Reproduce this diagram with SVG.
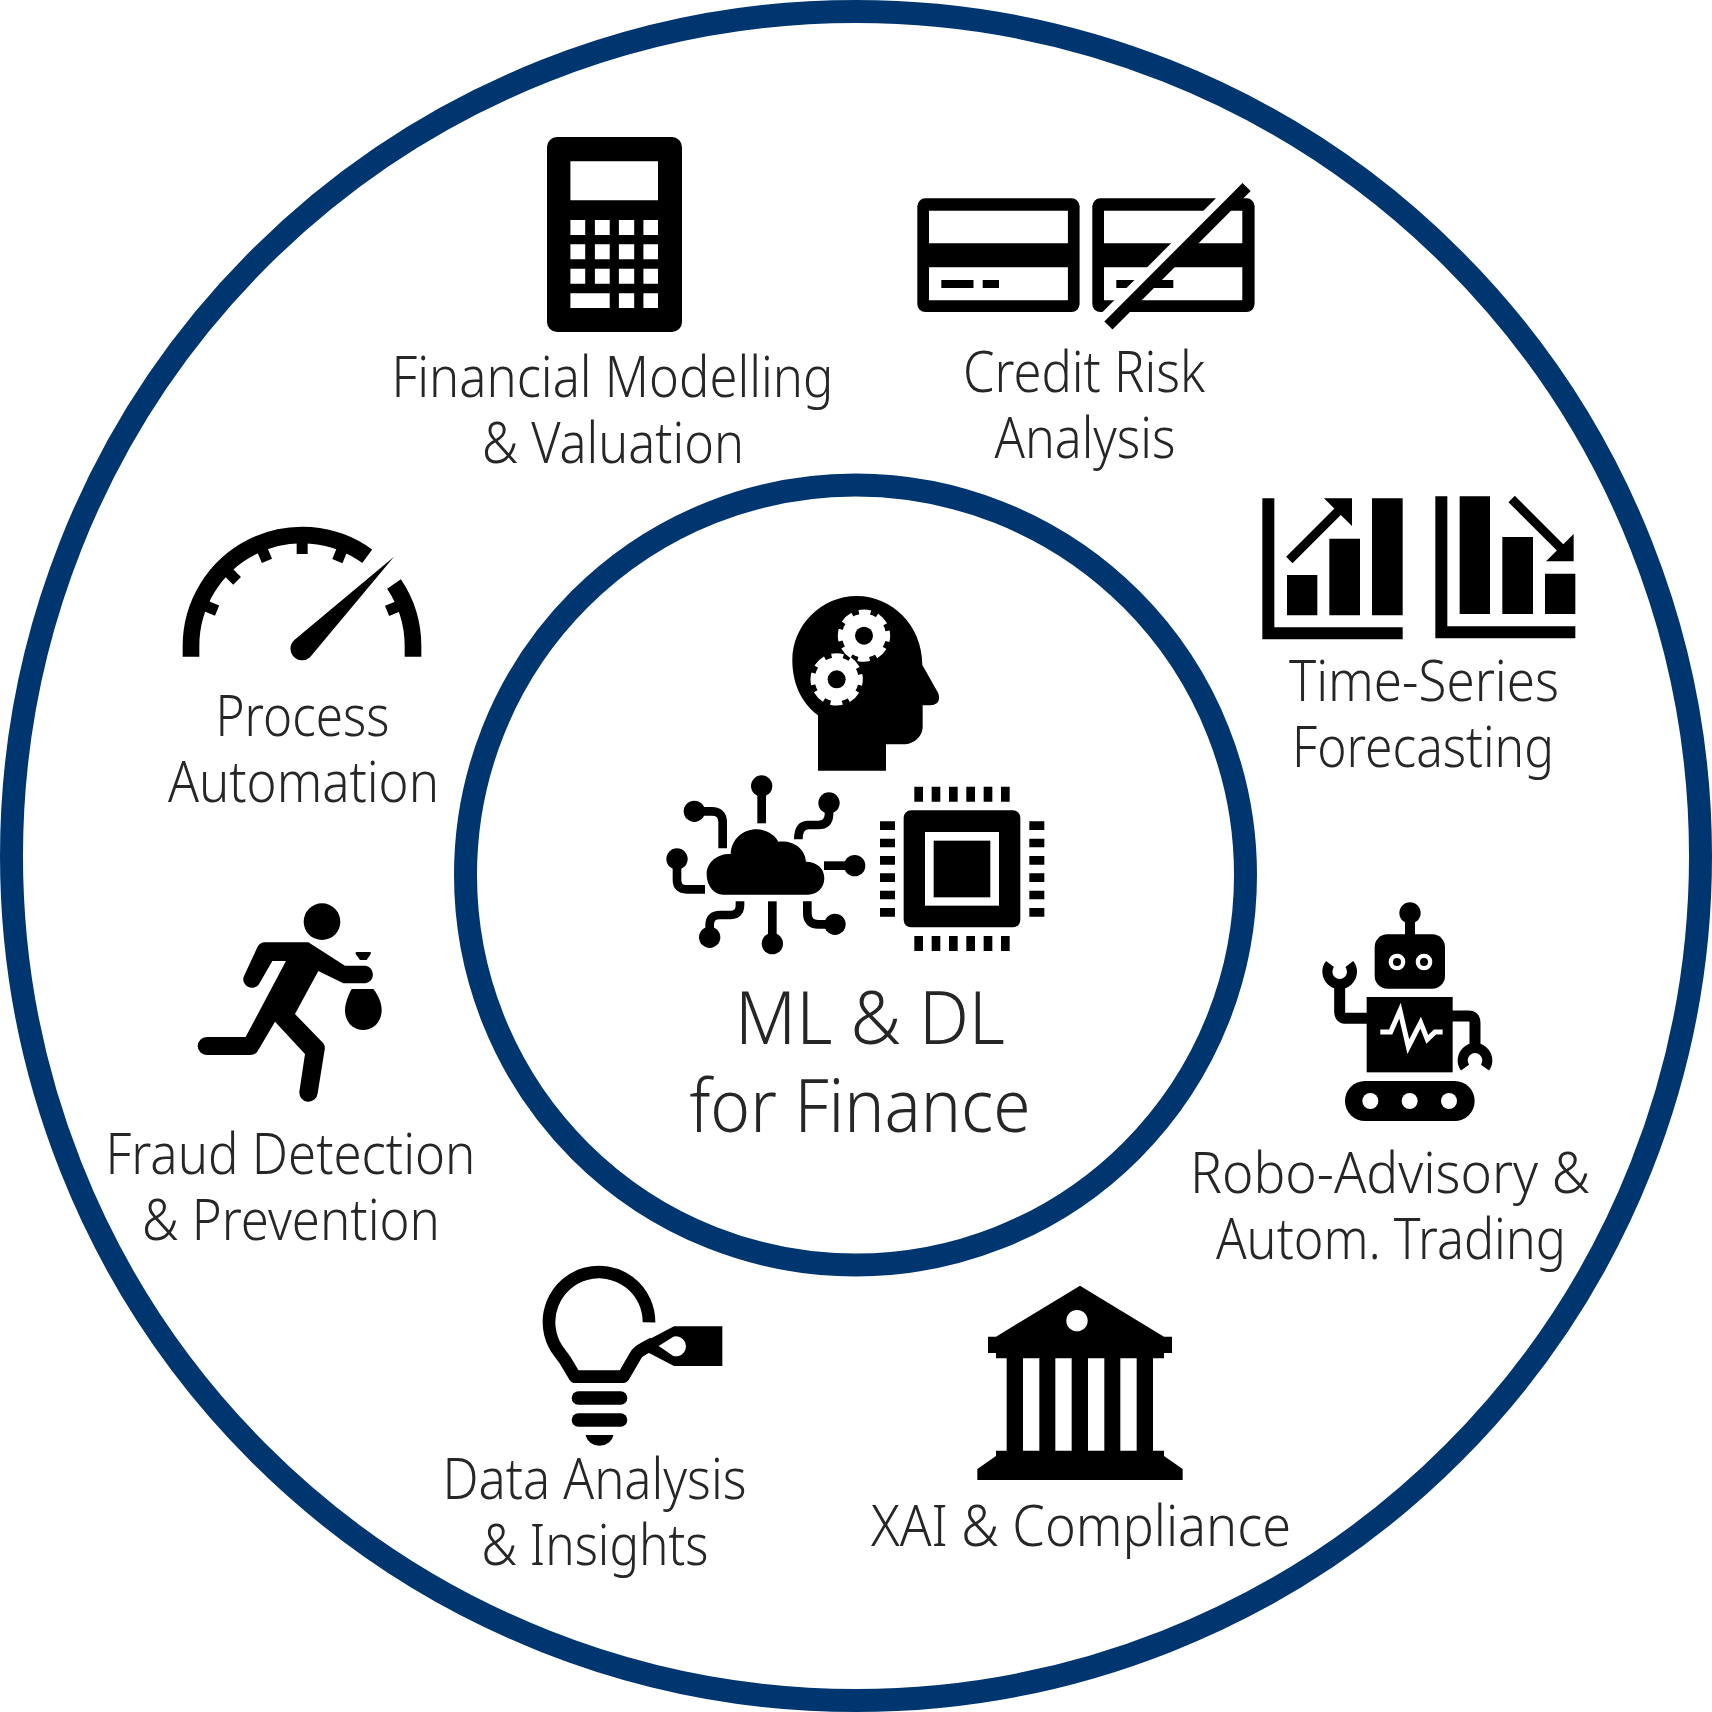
<svg xmlns="http://www.w3.org/2000/svg" xmlns:xlink="http://www.w3.org/1999/xlink" width="1712" height="1712" viewBox="0 0 1712 1712">
<style>
.ring{fill:none;stroke:#003670;stroke-width:23}
.t{font-family:"Noto Sans","Open Sans","Liberation Sans",sans-serif;font-weight:300;font-size:57px;fill:#262626;text-anchor:middle}
.b{font-size:73px}
.k{fill:#000}
.w{fill:#fff}
.s{fill:none;stroke:#000;stroke-linecap:butt;stroke-linejoin:round}
</style>
<defs>
<g id="gear">
<circle r="70" fill="none" stroke="#fff" stroke-width="17" stroke-dasharray="35 20" stroke-dashoffset="17.5"/>
<circle r="66" fill="#fff"/>
<circle r="27" fill="#000"/>
</g>
</defs>
<rect width="1712" height="1712" fill="#fff"/>
<g id="rings">
<circle class="ring" cx="856" cy="856" r="844.5"/>
<circle class="ring" cx="855.5" cy="875" r="390"/>
</g>
<g id="connectors"/>

<g id="center">
<g transform="translate(640 570) scale(.33333)">
<path class="k" d="M534 602V436C480 395 457 335 457 270C457 165 545 78 650 78C755 78 847 165 847 285L895 370Q905 405 870 406H848V470C848 500 820 523 790 523H738V602Z"/>
<use xlink:href="#gear" href="#gear" transform="translate(672 197)"/>
<use xlink:href="#gear" href="#gear" transform="translate(590 328)"/>
<path class="k" d="M250 974C220 974 200 945 200 912C200 875 235 850 272 852C275 805 310 778 350 778C380 778 405 795 415 815C460 810 495 835 498 875C530 875 553 895 553 925C553 955 530 974 505 974Z"/>
<g class="s" stroke-width="26">
<path d="M365 648V760"/>
<path d="M567 699V735Q565 765 535 765H505Q475 765 475 808"/>
<path d="M163 724H215Q248 724 248 757V835"/>
<path d="M111 867V930Q111 958 140 958H195"/>
<path d="M644 887H552"/>
<path d="M209 1102V1065Q209 1035 240 1035H270Q300 1035 300 1005V994"/>
<path d="M397 1121V994"/>
<path d="M585 1063H535Q502 1063 502 1030V994"/>
</g>
<g class="k">
<circle cx="365" cy="648" r="32"/><circle cx="567" cy="699" r="32"/><circle cx="163" cy="724" r="32"/><circle cx="111" cy="867" r="32"/><circle cx="644" cy="887" r="32"/><circle cx="209" cy="1102" r="32"/><circle cx="397" cy="1121" r="32"/><circle cx="585" cy="1063" r="32"/>
</g>
<rect class="k" x="791" y="721" width="350" height="351" rx="22"/>
<rect class="w" x="855" y="786" width="222" height="221"/>
<rect class="k" x="881" y="812" width="170" height="170"/>
<path class="k" d="M823 650h26v45h-26zM875 650h26v45h-26zM927 650h26v45h-26zM979 650h26v45h-26zM1031 650h26v45h-26zM1083 650h26v45h-26zM823 1098h26v45h-26zM875 1098h26v45h-26zM927 1098h26v45h-26zM979 1098h26v45h-26zM1031 1098h26v45h-26zM1083 1098h26v45h-26zM720 754h45v26h-45zM720 806h45v26h-45zM720 858h45v26h-45zM720 910h45v26h-45zM720 962h45v26h-45zM720 1014h45v26h-45zM1168 754h45v26h-45zM1168 806h45v26h-45zM1168 858h45v26h-45zM1168 910h45v26h-45zM1168 962h45v26h-45zM1168 1014h45v26h-45z"/>
</g>
<text class="t b" x="870" y="1044" textLength="270" lengthAdjust="spacingAndGlyphs">ML &amp; DL</text>
<text class="t b" x="860" y="1132" textLength="341" lengthAdjust="spacingAndGlyphs">for Finance</text>
</g>

<g id="financial-modelling">
<rect class="k" x="547" y="137" width="135" height="195" rx="10"/>
<path class="w" d="M570.4 161.3H658V200.3H570.4ZM570.4 220h14.8v15h-14.8zM594.9 220h14.8v15h-14.8zM618.9 220h15.3v15h-15.3zM643.4 220H658v15h-14.6zM570.4 244.3h14.8v15h-14.8zM594.9 244.3h14.8v15h-14.8zM618.9 244.3h15.3v15h-15.3zM643.4 244.3H658v15h-14.6zM570.4 268.7h14.8v15h-14.8zM594.9 268.7h14.8v15h-14.8zM618.9 268.7h15.3v15h-15.3zM643.4 268.7H658v15h-14.6zM570.4 293.3h39.3v14.7h-39.3zM618.9 293.3h15.3v14.7h-15.3zM643.4 293.3H658v14.7h-14.6z"/>
<text class="t" x="612.5" y="397" textLength="442" lengthAdjust="spacingAndGlyphs">Financial Modelling</text>
<text class="t" x="613" y="463" textLength="262" lengthAdjust="spacingAndGlyphs">&amp; Valuation</text>
</g>

<g id="credit-risk">
<rect class="k" x="917.3" y="198.3" width="162.3" height="113.7" rx="8"/>
<path class="w" d="M929 210.7H1067.9V243.3H929ZM929 267.3H1067.9V300.3H929Z"/>
<path class="k" d="M941.3 280h32.2v8h-32.2zM982.7 280H999v8h-16.3z"/>
<rect class="k" x="1092.3" y="198.3" width="162.3" height="113.7" rx="8"/>
<path class="w" d="M1104 210.7H1242.3V243.3H1104ZM1104 267.3H1242.3V300.3H1104Z"/>
<path class="k" d="M1116.3 280h57v8h-57z"/>
<path d="M1240 180.5L1102 319" fill="none" stroke="#fff" stroke-width="9"/>
<path d="M1246.6 187L1108.4 325.5" fill="none" stroke="#000" stroke-width="11.5"/>
<text class="t" x="1084" y="392" textLength="242" lengthAdjust="spacingAndGlyphs">Credit Risk</text>
<text class="t" x="1085" y="457.6" textLength="181" lengthAdjust="spacingAndGlyphs">Analysis</text>
</g>

<g id="time-series">
<g transform="translate(1240 480) scale(.33333)">
<path class="k" d="M67 55H103V442H488V478H67ZM141 285H232V406H141ZM268 176H360V406H268ZM396 55H488V406H396ZM252 55H336V138Z"/>
<path class="s" stroke-width="27" d="M148 240L304 84"/>
<path class="k" d="M586 49H622V439H1006V475H586ZM659 49H750V402H659ZM787 171H879V402H787ZM915 281H1006V402H915ZM918 244H1001V162Z"/>
<path class="s" stroke-width="27" d="M815 57L970 212"/>
</g>
<text class="t" x="1424" y="701" textLength="270" lengthAdjust="spacingAndGlyphs">Time-Series</text>
<text class="t" x="1423" y="767" textLength="262" lengthAdjust="spacingAndGlyphs">Forecasting</text>
</g>

<g id="process-automation">
<g transform="translate(160 500) scale(.33333)">
<path class="s" stroke-width="50" d="M93 470V438A333 333 0 0 1 621.7 168.6"/>
<path class="s" stroke-width="50" d="M702 252A333 333 0 0 1 759 438V470"/>
<g class="k">
<rect x="410" y="125" width="33" height="37"/>
<rect x="410" y="125" width="33" height="37" transform="rotate(-22.5 426 438)"/>
<rect x="410" y="125" width="33" height="37" transform="rotate(-45 426 438)"/>
<rect x="410" y="125" width="33" height="37" transform="rotate(-67.5 426 438)"/>
<rect x="410" y="125" width="33" height="37" transform="rotate(22.5 426 438)"/>
<rect x="410" y="125" width="33" height="37" transform="rotate(67.5 426 438)"/>
<path d="M702 170L403 420A35 35 0 0 0 450 472Z"/>
</g>
</g>
<text class="t" x="302.5" y="736" textLength="174" lengthAdjust="spacingAndGlyphs">Process</text>
<text class="t" x="303.5" y="801.5" textLength="271" lengthAdjust="spacingAndGlyphs">Automation</text>
</g>

<g id="fraud-detection">
<g class="k" transform="translate(180 890) scale(.33333)">
<circle cx="426" cy="95" r="55"/>
<path d="M255 157H385L495 227H557A27 27 0 0 1 557 280H490L415 243L345 372L430 460Q437 470 433 485L413 610A27 27 0 0 1 358 605L375 492L285 395L235 480Q228 495 210 495H80A27 27 0 0 1 80 441H197L318 213H277L236 284A26 26 0 0 1 191 260L232 172Q240 157 255 157Z"/>
<path d="M530 186H570Q575 186 572 192L560 210H540L527 192Q525 186 530 186Z"/>
<path d="M515 297H580C595 315 605 340 605 360C605 395 580 420 550 420C518 420 495 395 495 360C495 340 505 315 515 297Z"/>
</g>
<text class="t" x="290.5" y="1174" textLength="370" lengthAdjust="spacingAndGlyphs">Fraud Detection</text>
<text class="t" x="291" y="1240" textLength="298" lengthAdjust="spacingAndGlyphs">&amp; Prevention</text>
</g>

<g id="robo-advisory">
<g transform="translate(1300 890) scale(.33333)">
<circle class="k" cx="330" cy="69" r="32"/>
<rect class="k" x="315" y="69" width="30" height="70"/>
<rect class="k" x="224" y="133" width="211" height="163" rx="38"/>
<circle class="w" cx="291" cy="216" r="25"/><circle class="k" cx="291" cy="216" r="12"/>
<circle class="w" cx="372" cy="216" r="25"/><circle class="k" cx="372" cy="216" r="12"/>
<rect class="k" x="200" y="321" width="258" height="226"/>
<path d="M241 426H272L300 362L325 470L362 398L382 448L405 426H428" fill="none" stroke="#fff" stroke-width="15"/>
<path class="s" stroke-width="33" d="M205 385H140Q119 385 119 365V270"/>
<path class="s" stroke-width="30" d="M90 222A37 37 0 1 0 148 222"/>
<path class="s" stroke-width="33" d="M455 378H505Q525 378 525 398V475"/>
<path class="s" stroke-width="30" d="M495 533A37 37 0 1 1 555 533"/>
<rect class="k" x="135" y="573" width="389" height="120" rx="60"/>
<circle class="w" cx="211" cy="633" r="24"/><circle class="w" cx="329" cy="633" r="24"/><circle class="w" cx="447" cy="633" r="24"/>
</g>
<text class="t" x="1390" y="1193" textLength="400" lengthAdjust="spacingAndGlyphs">Robo-Advisory &amp;</text>
<text class="t" x="1391" y="1259" textLength="350" lengthAdjust="spacingAndGlyphs">Autom. Trading</text>
</g>

<g id="data-analysis">
<g transform="translate(520 1250) scale(.33333)">
<path class="s" stroke-width="38" stroke-linecap="round" d="M387 217A150 150 0 1 0 109.5 295Q120 310 135 330L165 380H310L345 320Q352 305 372 295L400 280"/>
<path class="k" d="M345 290L462 229H607V348H462L380 305Z"/>
<path class="w" d="M416 288L460 260A30 30 0 1 1 460 318Z"/>
<rect class="k" x="155" y="424" width="167" height="40" rx="20"/>
<rect class="k" x="155" y="490" width="167" height="40" rx="20"/>
<path class="k" d="M197 555H280A42 38 0 0 1 197 555Z"/>
</g>
<text class="t" x="594.5" y="1499" textLength="304" lengthAdjust="spacingAndGlyphs">Data Analysis</text>
<text class="t" x="595" y="1565" textLength="227" lengthAdjust="spacingAndGlyphs">&amp; Insights</text>
</g>

<g id="xai-compliance">
<g transform="translate(960 1270) scale(.33333)">
<path class="k" d="M360 47L612 200H636V249H612V265H108V249H84V200H108Z"/>
<circle class="w" cx="351" cy="152" r="32"/>
<path class="k" d="M140 260h49v290h-49zM238 260h48v290h-48zM335 260h49v290h-49zM433 260h48v290h-48zM530 260h49v290h-49z"/>
<path class="k" d="M108 542H612V558L668 597V630H52V597L108 558Z"/>
</g>
<text class="t" x="1081" y="1546" textLength="420" lengthAdjust="spacingAndGlyphs">XAI &amp; Compliance</text>
</g>
</svg>
